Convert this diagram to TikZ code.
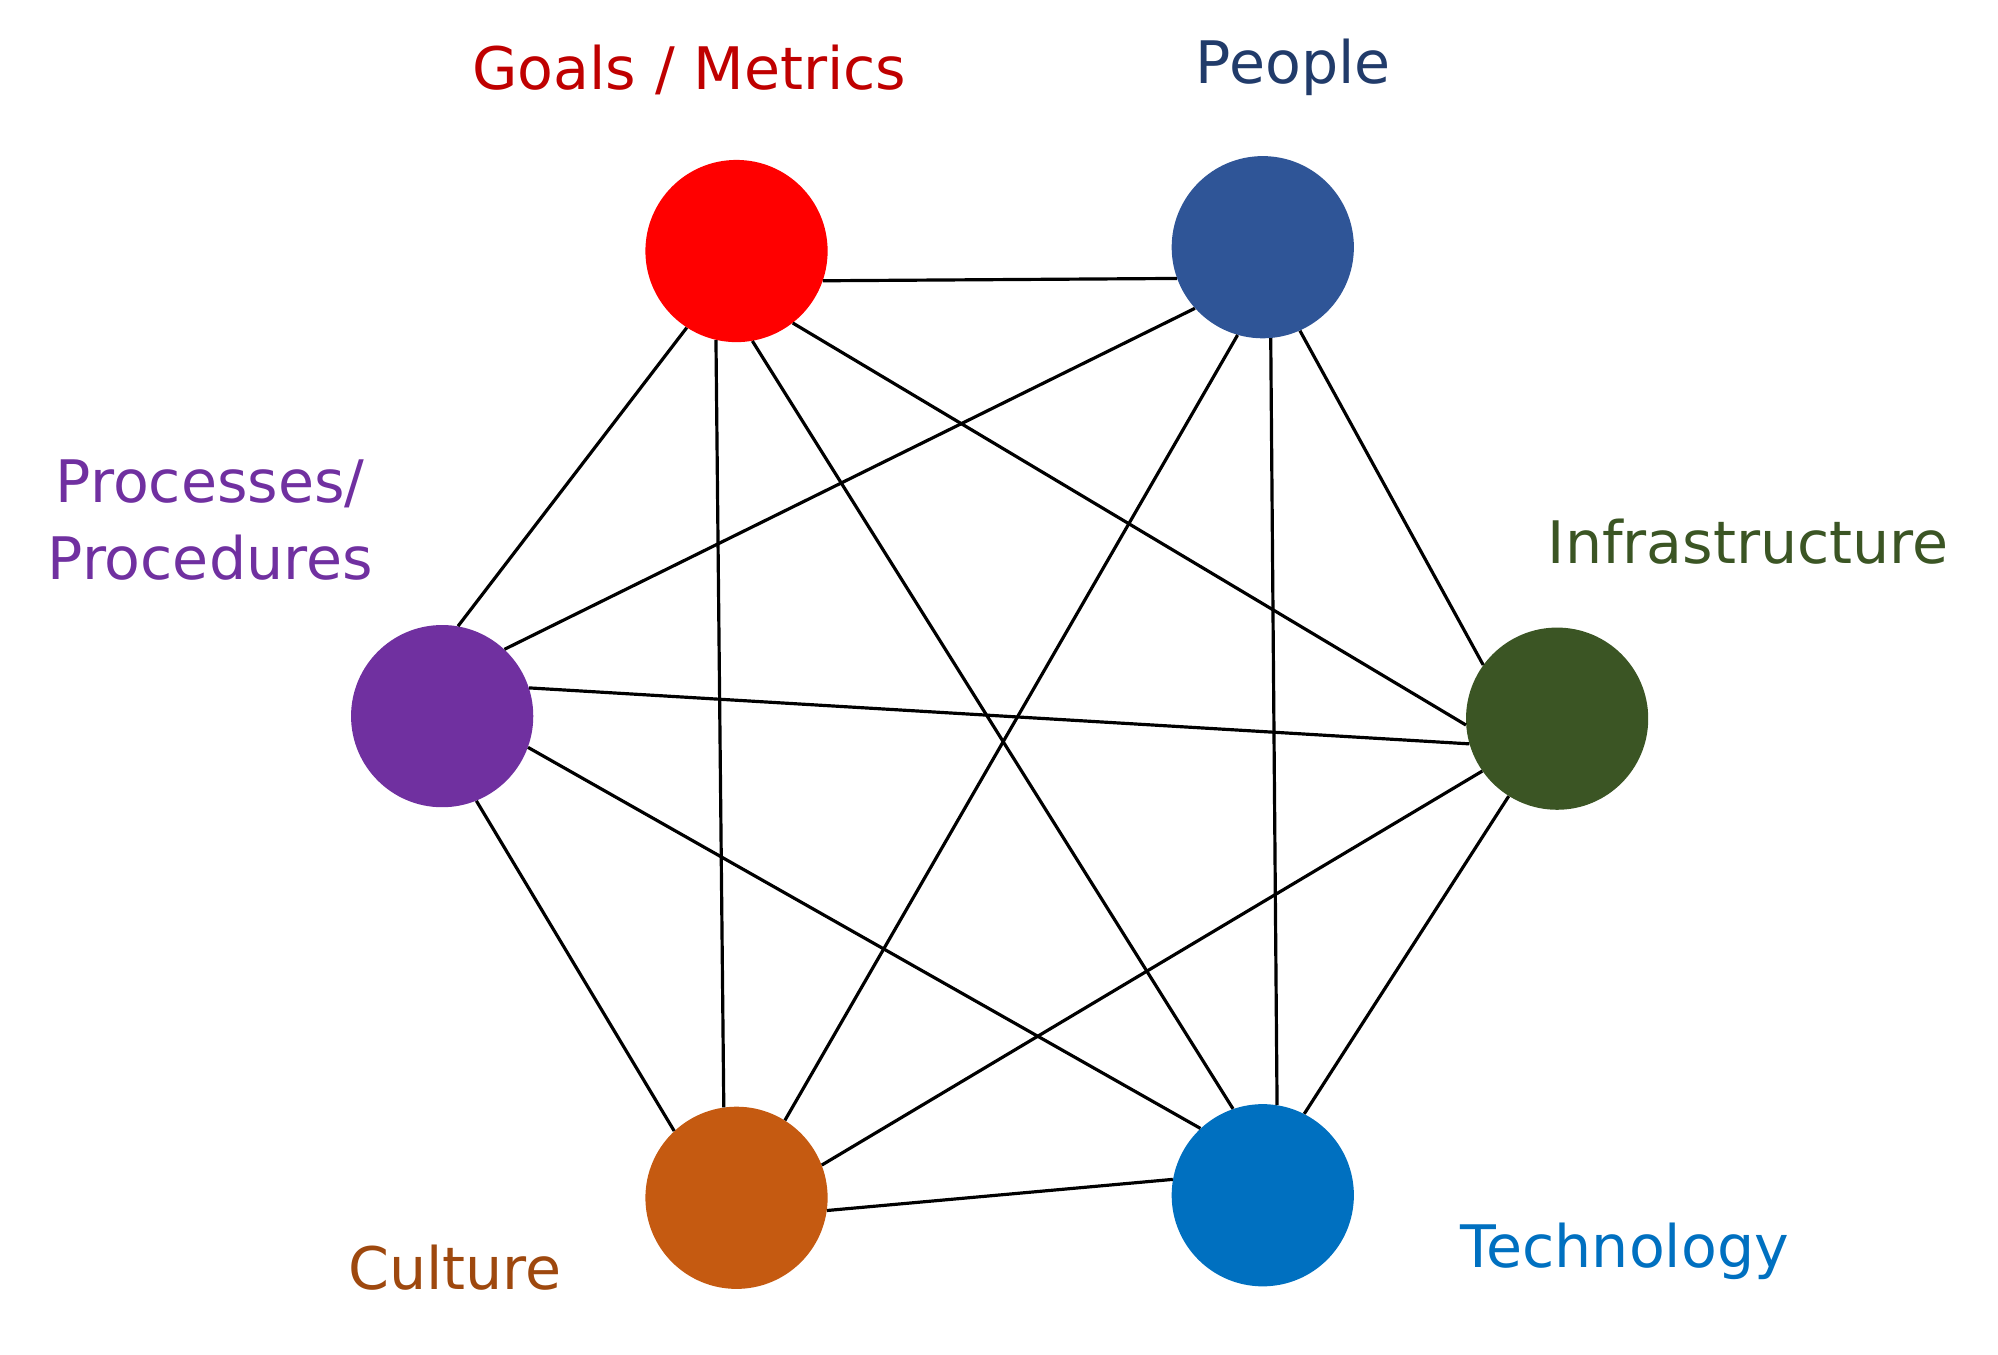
\documentclass[tikz,border=0pt]{standalone}
\usepackage{fontspec}
\setmainfont{DejaVu Sans}
\begin{document}
\begin{tikzpicture}[x=1pt,y=-1pt,
  dot/.style={circle,inner sep=0pt,minimum size=143pt,draw=none},
  lab/.style={font=\fontsize{46}{60}\selectfont,align=center},
  ln/.style={line width=2.5pt,black}]
\useasboundingbox (0,0) rectangle (1568,1063);
\definecolor{cG}{HTML}{FF0000}\definecolor{cP}{HTML}{2F5597}
\definecolor{cI}{HTML}{3B5524}\definecolor{cT}{HTML}{0070C0}
\definecolor{cC}{HTML}{C55A11}\definecolor{cR}{HTML}{7030A0}
\node[dot,fill=cG] (G) at (578,197) {};
\node[dot,fill=cP] (P) at (991,194) {};
\node[dot,fill=cI] (I) at (1222,564) {};
\node[dot,fill=cT] (T) at (991,938) {};
\node[dot,fill=cC] (C) at (578,940) {};
\node[dot,fill=cR] (R) at (347,562) {};
\node[lab,text=cG!75!black] (lG) at (541,55) {Goals / Metrics};
\node[lab,text=cP!70!black] (lP) at (1015,53) {People};
\node[lab,text=cR] (lR) at (165,408) {Processes/\\Procedures};
\node[lab,text=cI] (lI) at (1372,425) {Infrastructure};
\node[lab,text=cT] (lT) at (1275,982) {Technology};
\node[lab,text=cC!80!black] (lC) at (357,995) {Culture};
\begin{scope}[ln]
\draw (G.-19) -- (P.200);
\draw (G.-123) -- (R.80);
\draw (G.-103) -- (C.98);
\draw (G.-80) -- (T.109);
\draw (G.-52) -- (I.184);
\draw (P.-138) -- (R.47);
\draw (P.-106) -- (C.58);
\draw (P.-85) -- (T.81);
\draw (P.-66) -- (I.144);
\draw (R.18) -- (I.196);
\draw (R.-20) -- (T.133);
\draw (R.-68) -- (C.133);
\draw (I.215) -- (C.21);
\draw (I.-122) -- (T.63);
\draw (C.-8) -- (T.170);
\end{scope}
\end{tikzpicture}
\end{document}
